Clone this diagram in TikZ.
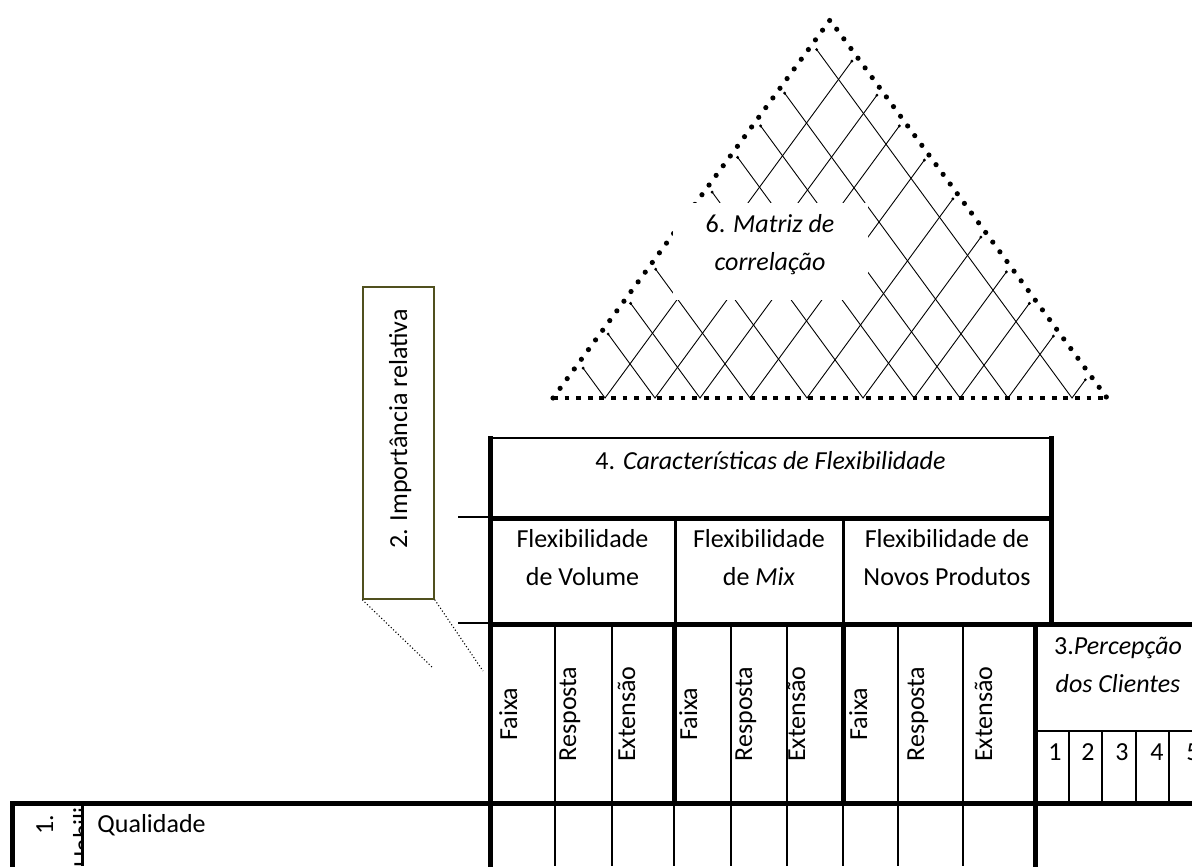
\documentclass[tikz,border=0pt]{standalone}
\usepackage{fontspec}
\setmainfont{Carlito}
\definecolor{olivebox}{RGB}{80,80,30}
\begin{document}
\begin{tikzpicture}[x=0.5pt,y=-0.5pt,
  tk/.style={line width=2.5pt,line cap=rect},
  md/.style={line width=1.5pt},
  tn/.style={line width=0.85pt},
  xtn/.style={line width=0.65pt},
  lbl/.style={font=\fontsize{13}{19}\selectfont,inner sep=0pt},
  vlbl/.style={lbl,rotate=90,anchor=base},
  hatch/.style={line width=0.45pt},
  dotline/.style={line width=0.55pt,dash pattern=on 0.55pt off 1.1pt}
]
\useasboundingbox (0,0) rectangle (1192,866);
\clip (0,0) rectangle (1192,866);

% ---------- correlation triangle ----------
\coordinate (tA) at (830,20);
\coordinate (tL) at (553,398);
\coordinate (tR) at (1107,398);
\foreach \b in {605,655,700,750,807,863,914,960,1008,1072} {
  \pgfmathsetmacro{\ta}{(\b-553)/554}
  \pgfmathsetmacro{\sa}{(1107-\b)/554}
  \pgfmathsetmacro{\fa}{1-7/(\ta*470)}
  \pgfmathsetmacro{\fb}{1-7/(\sa*470)}
  \coordinate (hb) at (\b,398);
  \coordinate (hl) at ({\b-277*\ta*\fa},{398-378*\ta*\fa});
  \coordinate (hr) at ({\b+277*\sa*\fb},{398-378*\sa*\fb});
  \draw[hatch] (hl) -- (hb) -- (hr);
  \fill (hl) circle (1.6);
  \fill (hr) circle (1.6);
}
\draw[line width=2.6pt,line cap=round,dash pattern=on 0pt off 6pt] (tL) -- (tA) -- (tR);
\draw[line width=2.4pt,dash pattern=on 2.4pt off 3.4pt] (tL) -- (tR);
\node[fill=white,minimum width=97.5pt,minimum height=48.5pt,inner sep=0pt] (mbox) at (770.5,251.5) {};
\node[lbl,anchor=base,align=center] (matriz) at (770,270) {6. \textit{Matriz de}\\\textit{correlação}};

% ---------- relative importance box ----------
\node[draw=olivebox,line width=0.7pt,minimum width=35.5pt,minimum height=156pt,inner sep=0pt] (imp) at (398.5,443) {};
\node[vlbl] (imptxt) at (407,429) {2. Importância relativa};
\coordinate (d1) at (433,668);
\coordinate (d2) at (483,671);
\draw[dotline] (imp.south west) -- (d1);
\draw[dotline] (imp.south east) -- (d2);

% ---------- flexibility header ----------
\draw[line width=1pt] (458,517) -- (490,517);
\draw[line width=1pt] (458,623) -- (490,623);
\draw[line width=1.1pt] (490,438) -- (1051,438);
\draw[tk] (490,518) -- (1051,518);
\draw[md] (675,518) -- (675,624);
\draw[md] (843,518) -- (843,624);
\draw[tk] (1051,438) -- (1051,624);

% ---------- row 3 ----------
\foreach \x in {555,612,731,787,898,963} \draw[tn] (\x,624) -- (\x,866);
\draw[tn] (674,803) -- (674,866);
\draw[tn] (843,803) -- (843,866);
\draw[tk] (674,624) -- (674,803);
\draw[tk] (843,624) -- (843,803);
\draw[tn] (1035,731) -- (1192,731);
\foreach \x in {1069,1102,1136,1169} \draw[xtn] (\x,731) -- (\x,803);
\draw[tk] (490,624) -- (1192,624);
\draw[tk] (12,803) -- (1192,803);
\draw[tk] (490,438) -- (490,866);
\draw[tk] (1035,624) -- (1035,866);
\draw[tk] (12,803) -- (12,866);
\draw[md] (82,803) -- (82,866);

% ---------- texts ----------
\node[lbl,anchor=base] (carac) at (770.5,469) {4. \textit{Características de Flexibilidade}};
\node[lbl,anchor=base,align=center] (fvol) at (582.5,585) {Flexibilidade\\de Volume};
\node[lbl,anchor=base,align=center] (fmix) at (759,585) {Flexibilidade\\de \textit{Mix}};
\node[lbl,anchor=base,align=center] (fnov) at (947,585) {Flexibilidade de\\Novos Produtos};

\node[vlbl] (f1) at (517,714) {Faixa};
\node[vlbl] (r1) at (576,714) {Resposta};
\node[vlbl] (e1) at (635,714) {Extensão};
\node[vlbl] (f2) at (697,714) {Faixa};
\node[vlbl] (r2) at (752,714) {Resposta};
\node[vlbl] (e2) at (805,714) {Extensão};
\node[vlbl] (f3) at (867,714) {Faixa};
\node[vlbl] (r3) at (924,714) {Resposta};
\node[vlbl] (e3) at (992,714) {Extensão};

\node[lbl,anchor=base,align=center] (perc) at (1118,692) {3.\textit{Percepção}\\\textit{dos Clientes}};
\node[lbl,anchor=base] (n1) at (1055,760) {1};
\node[lbl,anchor=base] (n2) at (1088,760) {2};
\node[lbl,anchor=base] (n3) at (1122,760) {3};
\node[lbl,anchor=base] (n4) at (1157,760) {4};
\node[lbl,anchor=base] (n5) at (1193,760) {5};

\node[lbl,anchor=base west] (qual) at (97,832) {Qualidade};
\node[vlbl] (one) at (53,825) {1.};
\begin{scope}
  \clip (15,806) rectangle (81,866);
  \node[lbl,rotate=90,anchor=base west] (hab) at (91,868) {Habilidades};
\end{scope}
\end{tikzpicture}
\end{document}
